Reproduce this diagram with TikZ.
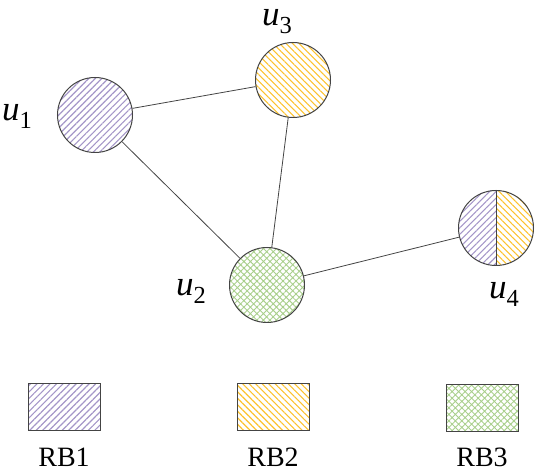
\documentclass[tikz,border=0pt]{standalone}
\usepackage{amsmath}
\usepackage{fontspec}
\setmainfont{Liberation Serif}
\usepackage{tikz}
\usetikzlibrary{patterns.meta,backgrounds}
\definecolor{rbpurple}{HTML}{A496C8}
\definecolor{rbyellow}{HTML}{FCC22E}
\definecolor{rbgreen}{HTML}{A9CF8C}
\definecolor{edgegray}{HTML}{444444}
\tikzset{
  usr/.style={circle, draw=edgegray, line width=1pt, minimum size=75pt, inner sep=0pt},
  rbone/.style={pattern={Lines[angle=45, distance=4.6pt, line width=1.1pt]}, pattern color=rbpurple},
  rbtwo/.style={pattern={Lines[angle=-45, distance=4.6pt, line width=1.1pt]}, pattern color=rbyellow},
  rbthree/.style={pattern={Hatch[angle=45, distance=4.6pt, line width=.9pt]}, pattern color=rbgreen},
  key/.style={draw=edgegray, line width=1pt, minimum width=72pt, minimum height=47pt, inner sep=0pt},
  lnk/.style={draw=edgegray, line width=.8pt},
  ulbl/.style={font=\fontsize{35}{35}\selectfont, anchor=base west, inner sep=0pt},
  klbl/.style={font=\fontsize{28}{28}\selectfont, anchor=base, inner sep=0pt},
}
\begin{document}
\begin{tikzpicture}[x=1pt, y=-1pt]
  \useasboundingbox (0,0) rectangle (550,473);
  % users
  \node[usr, rbone] (u1) at (95,115) {};
  \node[usr, rbtwo] (u3) at (293,80) {};
  \node[usr, rbthree] (u2) at (267,285) {};
  \node[usr] (u4) at (496,228) {};
  \begin{scope}[on background layer]
    \fill[rbone] (u4.north) arc[start angle=90, end angle=270, radius=37.5pt] -- cycle;
    \fill[rbtwo] (u4.north) arc[start angle=90, end angle=-90, radius=37.5pt] -- cycle;
  \end{scope}
  \draw[lnk] (u4.north) -- (u4.south);
  % links
  \draw[lnk] (u1) -- (u3);
  \draw[lnk] (u1) -- (u2);
  \draw[lnk] (u3) -- (u2);
  \draw[lnk] (u2) -- (u4);
  % labels
  \node[ulbl] (l1) at (2,121) {\textit{u}$_{\text{1}}$};
  \node[ulbl] (l3) at (262,26) {\textit{u}$_{\text{3}}$};
  \node[ulbl] (l2) at (176,296) {\textit{u}$_{\text{2}}$};
  \node[ulbl] (l4) at (489,299) {\textit{u}$_{\text{4}}$};
  % legend
  \node[key, rbone] (k1) at (64,407) {};
  \node[key, rbtwo] (k2) at (273,407) {};
  \node[key, rbthree] (k3) at (482,408) {};
  \node[klbl] (t1) at (k1.south |- 0,467) {RB1};
  \node[klbl] (t2) at (k2.south |- 0,467) {RB2};
  \node[klbl] (t3) at (k3.south |- 0,467) {RB3};
\end{tikzpicture}
\end{document}
